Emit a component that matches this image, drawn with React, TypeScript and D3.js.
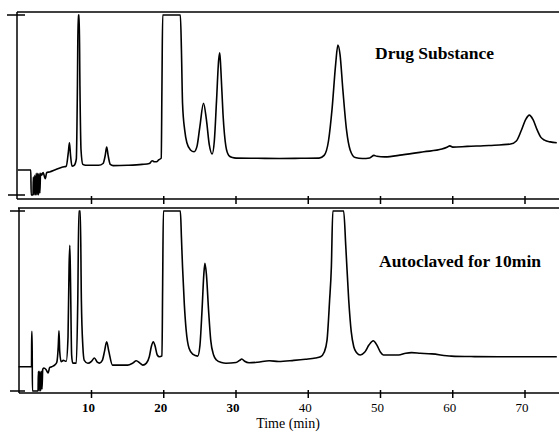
import React from "react";
import * as d3 from "d3";

// Drug Substance trace: time (min) and detector response (0 = lower tick, 100 = upper tick)
const topTimes = [-0.2, 1.6, 1.65, 1.9, 1.95, 2.05, 2.15, 2.25, 2.35, 2.45, 2.55, 2.65, 2.75, 2.85, 2.95, 3.1, 3.3, 3.6, 3.8, 4.2, 5, 6, 6.5, 6.8, 6.95, 7.1, 7.3, 7.6, 7.9, 8.05, 8.15, 8.3, 8.4, 8.55, 8.8, 9.2, 10, 11, 11.6, 11.9, 12.1, 12.3, 12.6, 13, 15, 17, 18, 18.4, 18.7, 19, 19.3, 19.65, 19.75, 19.85, 22.3, 22.45, 22.6, 22.9, 23.2, 23.7, 24.2, 24.6, 25.0, 25.5, 25.9, 26.3, 26.7, 27.0, 27.3, 27.6, 27.75, 27.9, 28.2, 28.6, 29.0, 29.5, 30, 33, 36, 39, 41.5, 42.2, 42.8, 43.3, 43.8, 44.1, 44.4, 44.8, 45.3, 45.8, 46.5, 47.5, 48.5, 49.1, 49.5, 50.6, 53, 56, 58.5, 59.2, 59.6, 60.0, 62, 65, 68, 68.8, 69.5, 70.1, 70.6, 71.1, 71.7, 72.2, 72.7, 73.5, 74.4];
const topValues = [13.9, 13.9, 0, 0, 10, 0, 11, 0, 12, 0, 12, 0, 12, 1, 12, 11, 12.5, 9, 12.5, 12.8, 14, 15.5, 16, 24, 29, 22, 16, 16.5, 20, 60, 100, 100, 60, 25, 17, 16.5, 16.5, 16.5, 17.5, 22, 26.7, 22, 17, 16.3, 16.5, 17, 17.5, 19, 18.5, 18.5, 19.5, 20.5, 60, 100, 100, 80, 51, 36, 29, 25, 24, 27, 38, 51, 42, 28, 22.8, 30, 52, 75, 79, 70, 45, 27, 22, 20.8, 20.5, 20.4, 20.3, 20.4, 20.5, 22, 30, 48, 73, 83.3, 78, 58, 36, 25, 20.8, 20.3, 20.6, 22, 21.5, 21.2, 22.3, 24, 25.5, 26.5, 27.3, 26.6, 27, 27.5, 28.3, 30, 36, 42, 44.4, 42, 36, 32, 30.5, 29.5, 29];

// Autoclaved for 10min trace
const bottomTimes = [-0.1, 1.7, 1.72, 1.78, 1.82, 2.6, 2.65, 2.75, 2.85, 2.95, 3.05, 3.15, 3.25, 3.4, 3.7, 4.0, 4.2, 4.5, 4.9, 5.2, 5.4, 5.5, 5.6, 5.8, 6.1, 6.5, 6.75, 6.9, 7.0, 7.1, 7.25, 7.4, 7.9, 8.1, 8.25, 8.45, 8.6, 8.8, 9.0, 9.5, 10.0, 10.4, 10.8, 11.1, 11.5, 11.8, 12.1, 12.4, 12.9, 15, 15.7, 16.2, 16.7, 17.1, 17.6, 18.0, 18.3, 18.55, 18.8, 19.1, 19.4, 19.75, 19.85, 19.95, 22.3, 22.45, 22.6, 22.85, 23.1, 23.5, 24.0, 24.7, 25.0, 25.3, 25.55, 25.7, 25.9, 26.2, 26.5, 26.9, 27.3, 28.0, 28.6, 30.0, 30.5, 30.8, 31.2, 31.8, 33, 34.6, 35.9, 38, 39.6, 41.0, 41.7, 42.2, 42.6, 42.95, 43.2, 43.4, 44.9, 45.2, 45.6, 45.95, 46.3, 46.7, 47.2, 47.8, 48.4, 49.0, 49.5, 50.0, 50.4, 52.5, 53.5, 54.3, 55.5, 57.1, 59.8, 63, 66.3, 70.8, 74.4];
const bottomValues = [13.5, 13.5, 33, 33, 0, 0, 11, 0, 11, 0, 11, 1, 12, 12.8, 12, 10, 13, 13.5, 14.4, 16, 25, 33.5, 22, 16.3, 17, 16.5, 30, 70, 81, 60, 20, 15.5, 15.5, 50, 100, 100, 50, 25, 17, 15.4, 16.5, 18.3, 16, 15.5, 17, 22, 27.4, 22, 14.4, 14.4, 15.5, 16.8, 15.5, 14.4, 15.5, 19, 25, 27.4, 25, 20, 19, 19.5, 60, 100, 100, 85, 69, 48, 33.9, 23.7, 20.5, 19.4, 25, 45, 65, 70.9, 65, 45, 28.3, 20, 17.2, 15.8, 15.4, 15.8, 17, 17.8, 16.5, 15.7, 16, 16.8, 16.4, 17, 17.6, 18.3, 19, 21.5, 28.3, 50, 69, 100, 100, 80, 50.6, 33, 24.6, 21.3, 20, 21.5, 25.5, 27.9, 25.5, 21.5, 20, 20, 21, 21.3, 21, 20.6, 19.4, 19.1, 19, 19, 19];

const xTicks = [10, 20, 30, 40, 50, 60, 70];
const panelLabels = ["Drug Substance", "Autoclaved for 10min"];
const xTitle = "Time (min)";

const W = 559;
const H = 435;
const SERIF = "'Liberation Serif', 'DejaVu Serif', serif";

export default function App() {
  const x = d3.scaleLinear().domain([10, 70]).range([91.5, 525]);
  const yTop = d3.scaleLinear().domain([0, 100]).range([195, 15]);
  const yBot = d3.scaleLinear().domain([0, 100]).range([391, 211]);

  const topData = topTimes.map((t, i) => [t, topValues[i]] as [number, number]);
  const botData = bottomTimes.map((t, i) => [t, bottomValues[i]] as [number, number]);

  const lineTop = d3
    .line<[number, number]>()
    .x((d) => x(d[0]))
    .y((d) => yTop(d[1]))
    .curve(d3.curveMonotoneX);
  const lineBot = d3
    .line<[number, number]>()
    .x((d) => x(d[0]))
    .y((d) => yBot(d[1]))
    .curve(d3.curveMonotoneX);

  const sw = 1.5;

  return (
    <svg
      width={W}
      height={H}
      style={{ position: "absolute", left: 0, top: 0, display: "block", background: "#fff" }}
    >
      <rect x={0} y={0} width={W} height={H} fill="#fff" />
      {/* top panel frame */}
      <g stroke="#000" strokeWidth={sw} fill="none">
        <line x1={17} x2={W} y1={12} y2={12} />
        <line x1={17} x2={17} y1={12} y2={199} />
        <line x1={17} x2={W} y1={199} y2={199} />
        <line x1={7} x2={25} y1={yTop(100)} y2={yTop(100)} />
        <line x1={8} x2={25} y1={yTop(0)} y2={yTop(0)} />
        {xTicks.map((t) => (
          <line key={"tt" + t} x1={x(t)} x2={x(t)} y1={196} y2={204} />
        ))}
      </g>
      {/* bottom panel frame */}
      <g stroke="#000" strokeWidth={sw} fill="none">
        <line x1={18} x2={W} y1={208} y2={208} />
        <line x1={19} x2={19} y1={208} y2={393} />
        <line x1={19} x2={W} y1={393} y2={393} />
        <line x1={10} x2={25} y1={yBot(100)} y2={yBot(100)} />
        <line x1={10} x2={25} y1={yBot(0)} y2={yBot(0)} />
        {xTicks.map((t) => (
          <line key={"bt" + t} x1={x(t)} x2={x(t)} y1={390} y2={398} />
        ))}
      </g>
      {/* traces */}
      <path d={lineTop(topData) || ""} fill="none" stroke="#000" strokeWidth={1.6} strokeLinejoin="round" />
      <path d={lineBot(botData) || ""} fill="none" stroke="#000" strokeWidth={1.6} strokeLinejoin="round" />
      {/* tick labels */}
      {xTicks.map((t) => (
        <text
          key={"lab" + t}
          x={x(t) - 3}
          y={412}
          textAnchor="middle"
          fontFamily={SERIF}
          fontSize={13}
          fontWeight={t <= 30 ? "bold" : "normal"}
          fill="#000"
        >
          {t}
        </text>
      ))}
      <text x={288} y={428} textAnchor="middle" fontFamily={SERIF} fontSize={14} fill="#000">
        {xTitle}
      </text>
      <text x={375} y={58.5} fontFamily={SERIF} fontSize={17.5} fontWeight="bold" fill="#000">
        {panelLabels[0]}
      </text>
      <text x={379} y={267} fontFamily={SERIF} fontSize={17.5} fontWeight="bold" fill="#000">
        {panelLabels[1]}
      </text>
    </svg>
  );
}
